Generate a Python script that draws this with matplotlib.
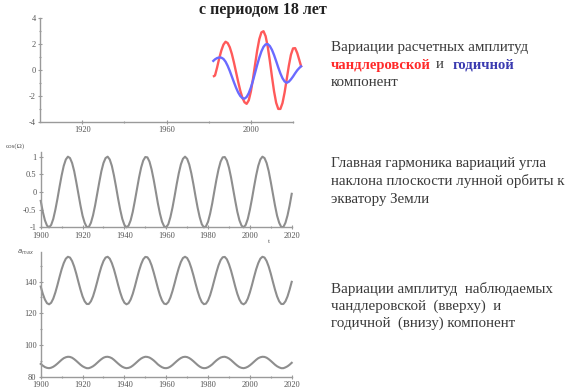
import numpy as np
import matplotlib.pyplot as plt
from matplotlib.ticker import MultipleLocator, FixedLocator

plt.rcParams['font.family'] = ['Liberation Serif', 'DejaVu Serif']

# Computed amplitudes of the Chandler (red) and annual (blue) components
calc_years_red = [1982.5] + list(range(1983, 2024)) + [2023.8]
chandler_calc = [-0.47, -0.42, 0.20, 0.90, 1.50, 1.95, 2.17, 2.07, 1.75, 1.23,
                 0.56, -0.18, -0.92, -1.60, -2.14, -2.48, -2.60, -2.33, -1.66, -0.69,
                 0.42, 1.50, 2.37, 2.89, 2.98, 2.60, 1.79, 0.70, -0.51, -1.64,
                 -2.52, -2.99, -2.99, -2.54, -1.73, -0.71, 0.32, 1.17, 1.66, 1.68,
                 1.30, 0.75, 0.30]
calc_years_blue = [1982.2] + list(range(1983, 2024)) + [2023.8]
annual_calc = [0.70, 0.82, 0.92, 0.96, 0.95, 0.85, 0.64, 0.32, -0.07, -0.51,
               -0.95, -1.37, -1.73, -2.00, -2.16, -2.20, -2.07, -1.78, -1.35, -0.82,
               -0.22, 0.39, 0.95, 1.43, 1.78, 1.97, 1.99, 1.84, 1.55, 1.15,
               0.68, 0.19, -0.26, -0.63, -0.88, -0.98, -0.90, -0.72, -0.50, -0.25,
               -0.02, 0.16, 0.28]

# Yearly series 1900-2020
years = list(range(1900, 2021))
cos_omega = [-0.25, -0.56, -0.80, -0.95, -1.00, -0.93, -0.76, -0.50, -0.19, 0.15,
             0.47, 0.74, 0.92, 1.00, 0.96, 0.82, 0.59, 0.28, -0.05, -0.38,
             -0.67, -0.87, -0.99, -0.99, -0.87, -0.66, -0.38, -0.05, 0.28, 0.59,
             0.82, 0.96, 1.00, 0.92, 0.74, 0.47, 0.15, -0.19, -0.50, -0.76,
             -0.93, -1.00, -0.95, -0.80, -0.56, -0.25, 0.08, 0.41, 0.69, 0.89,
             0.99, 0.98, 0.86, 0.64, 0.35, 0.02, -0.32, -0.61, -0.84, -0.97,
             -1.00, -0.91, -0.71, -0.44, -0.12, 0.22, 0.53, 0.78, 0.94, 1.00,
             0.94, 0.78, 0.53, 0.22, -0.12, -0.44, -0.71, -0.91, -1.00, -0.97,
             -0.84, -0.61, -0.32, 0.02, 0.35, 0.64, 0.86, 0.98, 0.99, 0.89,
             0.69, 0.41, 0.08, -0.25, -0.56, -0.80, -0.95, -1.00, -0.93, -0.76,
             -0.50, -0.19, 0.15, 0.47, 0.74, 0.92, 1.00, 0.96, 0.82, 0.59,
             0.28, -0.05, -0.38, -0.67, -0.87, -0.99, -0.99, -0.87, -0.66, -0.38, -0.05]
chandler_obs = [136.9, 132.3, 128.7, 126.4, 125.7, 126.7, 129.3, 133.2, 137.9, 143.0,
                147.8, 151.7, 154.5, 155.7, 155.2, 153.0, 149.5, 145.0, 139.9, 135.0,
                130.7, 127.6, 125.9, 125.9, 127.6, 130.7, 135.0, 139.9, 145.0, 149.5,
                153.0, 155.2, 155.7, 154.5, 151.7, 147.8, 143.0, 137.9, 133.2, 129.3,
                126.7, 125.7, 126.4, 128.7, 132.3, 136.9, 142.0, 146.9, 151.0, 154.1,
                155.6, 155.4, 153.6, 150.3, 145.9, 141.0, 136.0, 131.5, 128.1, 126.1,
                125.8, 127.1, 130.0, 134.1, 138.9, 144.0, 148.6, 152.4, 154.9, 155.7,
                154.9, 152.4, 148.6, 144.0, 138.9, 134.1, 130.0, 127.1, 125.8, 126.1,
                128.1, 131.5, 136.0, 141.0, 145.9, 150.3, 153.6, 155.4, 155.6, 154.1,
                151.0, 146.9, 142.0, 136.9, 132.3, 128.7, 126.4, 125.7, 126.7, 129.3,
                133.2, 137.9, 143.0, 147.8, 151.7, 154.5, 155.7, 155.2, 153.0, 149.5,
                145.0, 139.9, 135.0, 130.7, 127.6, 125.9, 125.9, 127.6, 130.7, 135.0, 139.9]
annual_obs = [88.1, 87.0, 86.1, 85.6, 85.4, 85.7, 86.3, 87.2, 88.3, 89.5,
              90.7, 91.7, 92.3, 92.6, 92.5, 92.0, 91.1, 90.0, 88.8, 87.6,
              86.6, 85.9, 85.4, 85.4, 85.9, 86.6, 87.6, 88.8, 90.0, 91.1,
              92.0, 92.5, 92.6, 92.3, 91.7, 90.7, 89.5, 88.3, 87.2, 86.3,
              85.7, 85.4, 85.6, 86.1, 87.0, 88.1, 89.3, 90.5, 91.5, 92.2,
              92.6, 92.5, 92.1, 91.3, 90.3, 89.1, 87.8, 86.8, 86.0, 85.5,
              85.4, 85.7, 86.4, 87.4, 88.6, 89.8, 90.9, 91.8, 92.4, 92.6,
              92.4, 91.8, 90.9, 89.8, 88.6, 87.4, 86.4, 85.7, 85.4, 85.5,
              86.0, 86.8, 87.8, 89.1, 90.3, 91.3, 92.1, 92.5, 92.6, 92.2,
              91.5, 90.5, 89.3, 88.1, 87.0, 86.1, 85.6, 85.4, 85.7, 86.3,
              87.2, 88.3, 89.5, 90.7, 91.7, 92.3, 92.6, 92.5, 92.0, 91.1,
              90.0, 88.8, 87.6, 86.6, 85.9, 85.4, 85.4, 85.9, 86.6, 87.6, 88.8]

axis_col = '#9a9a9a'
tick_col = '#555555'
curve_col = '#8e8e8e'
text_col = '#3a3a3a'


def style_axes(ax, ymajor, yminor, xmajor, xminor):
    for s in ('top', 'right'):
        ax.spines[s].set_visible(False)
    for s in ('left', 'bottom'):
        ax.spines[s].set_color(axis_col)
        ax.spines[s].set_linewidth(1.0)
    ax.yaxis.set_major_locator(FixedLocator(ymajor))
    ax.yaxis.set_minor_locator(FixedLocator(yminor))
    ax.xaxis.set_major_locator(FixedLocator(xmajor))
    ax.xaxis.set_minor_locator(FixedLocator(xminor))
    ax.tick_params(which='both', direction='inout', color=axis_col,
                   labelsize=6, labelcolor=tick_col, width=0.8, pad=1.5)
    ax.tick_params(which='major', length=3)
    ax.tick_params(which='minor', length=2)
    ax.set_facecolor('none')


fig = plt.figure(figsize=(5.72, 3.90), dpi=100)

# computed Chandler / annual amplitudes
ax1 = fig.add_axes([0.0699, 0.687, 0.4424, 0.267])
ax1.plot(calc_years_red, chandler_calc, color='#ff5a5a', lw=1.7, clip_on=False)
ax1.plot(calc_years_blue, annual_calc, color='#6a6aff', lw=1.7, clip_on=False)
ax1.set_xlim(1900, 2020)
ax1.set_ylim(-4, 4)
style_axes(ax1, [-4, -2, 0, 2, 4], [-3, -1, 1, 3],
           [1920, 1960, 2000], [1940, 1980, 2020])
ax1.set_yticklabels(['-4', '-2', '0', '2', '4'])
ax1.set_xticklabels(['1920', '1960', '2000'])

# main harmonic of the lunar orbit inclination
ax2 = fig.add_axes([0.0712, 0.417, 0.4388, 0.194])
ax2.plot(years, cos_omega, color=curve_col, lw=1.5, clip_on=False)
ax2.set_xlim(1900, 2020)
ax2.set_ylim(-1, 1.14)
style_axes(ax2, [-1, -0.5, 0, 0.5, 1], [],
           list(range(1900, 2021, 20)), list(range(1910, 2020, 20)))
ax2.set_yticklabels(['-1', '-0.5', '0', '0.5', '1'])
ax2.set_xticklabels([str(y) for y in range(1900, 2021, 20)])
ax2.text(-0.1, 1.075, 'cos(Ω)', transform=ax2.transAxes, fontsize=5,
         color=tick_col, ha='center', va='center')
ax2.text(0.91, -0.19, 't', transform=ax2.transAxes, fontsize=5,
         color=tick_col, ha='center', va='center')

# observed Chandler (top) and annual (bottom) amplitudes
ax3 = fig.add_axes([0.0712, 0.034, 0.4388, 0.319])
ax3.plot(years, chandler_obs, color=curve_col, lw=1.5, clip_on=False)
ax3.plot(years, annual_obs, color=curve_col, lw=1.5, clip_on=False)
ax3.set_xlim(1900, 2020)
ax3.set_ylim(80, 158.5)
style_axes(ax3, [80, 100, 120, 140], [90, 110, 130, 150],
           list(range(1900, 2021, 20)), list(range(1910, 2020, 20)))
ax3.set_yticklabels(['80', '100', '120', '140'])
ax3.set_xticklabels([str(y) for y in range(1900, 2021, 20)])
ax3.text(-0.06, 1.0, r'$a_{max}$', transform=ax3.transAxes, fontsize=5,
         color=tick_col, ha='center', va='center')

W, H = 572.0, 390.0


def put(x, y, s, **kw):
    kw.setdefault('color', text_col)
    kw.setdefault('fontsize', 10.8)
    fig.text(x / W, 1 - y / H, s, va='center', ha='left', **kw)


fig.text(263 / W, 1 - 10 / H, 'с периодом 18 лет', ha='center', va='center',
         fontsize=11.5, fontweight='bold', color='#222222')

put(331, 47.5, 'Вариации расчетных амплитуд')
put(331, 65, 'чандлеровской', color='#ff2a2a', fontweight='bold', fontsize=10.5)
put(436, 65, 'и')
put(453, 65, 'годичной', color='#3a3ab0', fontweight='bold', fontsize=10.5)
put(331, 82, 'компонент')

put(331, 163.5, 'Главная гармоника вариаций угла')
put(331, 181.5, 'наклона плоскости лунной орбиты к')
put(331, 200, 'экватору Земли')

put(331, 289.5, 'Вариации амплитуд  наблюдаемых')
put(331, 306.5, 'чандлеровской  (вверху)  и')
put(331, 323.5, 'годичной  (внизу) компонент')

fig.savefig('out.png', dpi=100)
